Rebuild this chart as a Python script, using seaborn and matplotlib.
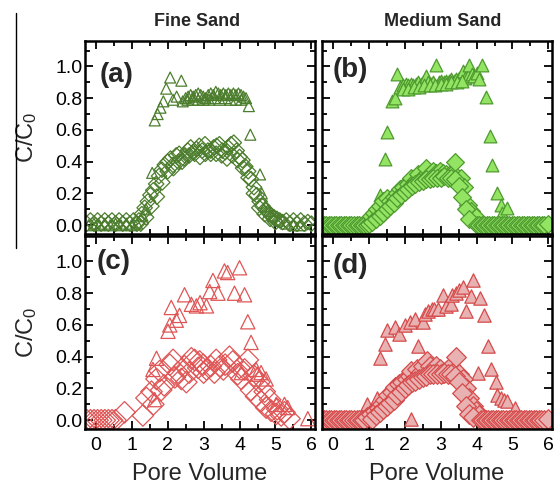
import matplotlib
matplotlib.use("Agg")
import matplotlib.pyplot as plt
from matplotlib.lines import Line2D
from matplotlib.ticker import MultipleLocator
import pandas as pd
import seaborn as sns

# ---------------------------------------------------------------- data
# Breakthrough curves: (pore volume, C/C0)
# Fine sand, green (open markers)
a_tri = [(-0.2, 0.0), (-0.05, 0.01), (0.1, 0.0), (0.25, 0.01), (0.4, 0.0), (0.55, 0.01),
         (0.7, 0.0), (0.85, 0.01), (1.0, 0.0), (1.15, 0.01), (1.3, 0.06), (1.4, 0.10),
         (1.57, 0.33), (1.64, 0.66), (1.72, 0.70), (1.8, 0.74), (1.88, 0.78), (1.96, 0.86),
         (2.07, 0.93), (2.15, 0.79), (2.25, 0.81), (2.38, 0.91), (2.42, 0.78),
         (2.50, 0.80), (2.57, 0.81), (2.64, 0.82), (2.71, 0.81), (2.78, 0.82), (2.85, 0.83),
         (2.92, 0.82), (2.99, 0.81), (3.06, 0.80), (3.13, 0.82), (3.20, 0.83), (3.27, 0.82),
         (3.34, 0.84), (3.41, 0.83), (3.48, 0.82), (3.55, 0.83), (3.62, 0.82), (3.69, 0.83),
         (3.76, 0.82), (3.83, 0.83), (3.90, 0.82), (3.97, 0.83), (4.04, 0.82), (4.11, 0.81),
         (4.18, 0.80), (2.55, 0.79), (2.70, 0.79), (2.85, 0.79), (3.00, 0.79), (3.15, 0.79),
         (3.30, 0.80), (3.45, 0.79), (3.60, 0.80), (3.75, 0.79), (3.90, 0.79), (4.05, 0.79),
         (4.26, 0.75), (4.30, 0.57), (4.57, 0.32), (4.62, 0.20), (4.72, 0.12), (4.82, 0.09),
         (4.92, 0.06), (5.1, 0.03), (5.3, 0.01), (5.5, 0.0), (5.7, 0.0)]
a_dia = [(-0.25, 0.01), (-0.15, 0.03), (-0.05, 0.01), (0.05, 0.03), (0.15, 0.01), (0.25, 0.03),
         (0.35, 0.01), (0.45, 0.03), (0.55, 0.01), (0.65, 0.03), (0.75, 0.01), (0.85, 0.03),
         (0.95, 0.01), (1.05, 0.03), (1.15, 0.01),
         (1.2, 0.03), (1.28, 0.07), (1.36, 0.11), (1.45, 0.15), (1.52, 0.19), (1.6, 0.22),
         (1.68, 0.26), (1.76, 0.31), (1.84, 0.35), (1.92, 0.38), (2.0, 0.40), (2.08, 0.42),
         (2.16, 0.36), (2.24, 0.44), (2.32, 0.45), (2.4, 0.40), (2.48, 0.44), (2.56, 0.47),
         (2.64, 0.49), (2.72, 0.46), (2.8, 0.48), (2.88, 0.50), (2.96, 0.47), (3.04, 0.51),
         (3.12, 0.47), (3.2, 0.45), (3.28, 0.49), (3.36, 0.50), (3.44, 0.51), (3.52, 0.47),
         (3.6, 0.46), (3.68, 0.49), (3.76, 0.51), (3.84, 0.52), (3.92, 0.47), (4.0, 0.43),
         (4.08, 0.41), (4.16, 0.37), (4.24, 0.34), (4.32, 0.29), (4.4, 0.24), (4.48, 0.19),
         (4.56, 0.15), (4.64, 0.12), (4.72, 0.10), (4.8, 0.08), (4.88, 0.06), (4.96, 0.05),
         (5.04, 0.04), (5.12, 0.03),
         (1.25, 0.01), (1.4, 0.05), (1.55, 0.12), (1.7, 0.18), (1.85, 0.27), (2.0, 0.34),
         (2.15, 0.38), (2.3, 0.40), (2.45, 0.42), (2.6, 0.44), (2.75, 0.45), (2.9, 0.43),
         (3.05, 0.45), (3.2, 0.47), (3.35, 0.45), (3.5, 0.44), (3.65, 0.42), (3.8, 0.44),
         (3.95, 0.41), (4.1, 0.36), (4.25, 0.30), (4.4, 0.20), (4.55, 0.11), (4.7, 0.07),
         (4.85, 0.04), (5.0, 0.02),
         (5.2, 0.02), (5.3, 0.03), (5.4, 0.01), (5.5, 0.03), (5.6, 0.01), (5.7, 0.03),
         (5.8, 0.01), (5.9, 0.02), (6.0, 0.01)]

# Medium sand, green (filled markers)
b_tri = [(1.3, 0.19), (1.45, 0.42), (1.5, 0.59), (1.64, 0.78), (1.73, 0.80), (1.8, 0.95),
         (1.87, 0.87), (1.96, 0.88), (2.03, 0.89), (2.1, 0.88), (2.17, 0.89), (2.24, 0.88),
         (2.31, 0.89), (2.38, 0.90), (2.45, 0.89), (2.52, 0.90), (2.59, 0.94), (2.66, 0.90),
         (2.73, 0.89), (2.8, 0.90), (2.88, 1.01), (2.95, 0.90), (3.02, 0.91), (3.09, 0.90),
         (3.16, 0.91), (3.23, 0.91), (3.3, 0.92), (3.37, 0.91), (3.44, 0.92), (3.51, 0.93),
         (3.58, 0.92), (3.61, 0.97), (3.68, 0.93), (3.75, 0.94), (3.8, 1.01), (3.87, 0.95),
         (3.94, 0.94), (4.0, 0.96), (4.07, 0.92), (4.16, 1.01),
         (1.95, 0.86), (2.1, 0.86), (2.25, 0.87), (2.4, 0.87), (2.55, 0.88), (2.7, 0.88),
         (2.85, 0.88), (3.0, 0.89), (3.15, 0.89), (3.3, 0.90), (3.45, 0.90), (3.6, 0.91),
         (4.26, 0.81), (4.37, 0.56), (4.44, 0.38), (4.58, 0.20), (4.67, 0.13), (4.7, 0.08),
         (4.85, 0.11)]
b_dia = [(-0.25, 0.0), (-0.18, 0.0), (-0.11, 0.0), (-0.04, 0.0), (0.03, 0.0), (0.10, 0.0),
         (0.17, 0.0), (0.24, 0.0), (0.31, 0.0), (0.38, 0.0), (0.45, 0.0), (0.52, 0.0),
         (0.59, 0.0), (0.66, 0.0), (0.73, 0.0), (0.80, 0.0), (0.87, 0.0), (0.94, 0.0),
         (1.0, 0.01),
         (1.05, 0.06), (1.14, 0.08), (1.23, 0.10), (1.32, 0.12), (1.41, 0.15), (1.5, 0.17),
         (1.6, 0.15), (1.69, 0.18), (1.78, 0.20), (1.87, 0.23), (1.96, 0.24), (2.1, 0.26),
         (2.19, 0.30), (2.28, 0.28), (2.37, 0.32), (2.47, 0.30), (2.6, 0.36), (2.7, 0.32),
         (2.79, 0.34), (2.88, 0.33), (2.97, 0.34), (3.06, 0.33), (3.16, 0.32), (3.25, 0.32),
         (3.34, 0.33), (3.39, 0.40), (3.48, 0.28), (3.57, 0.30), (3.66, 0.24), (3.75, 0.13),
         (3.84, 0.09), (3.98, 0.05),
         (1.1, 0.02), (1.2, 0.04), (1.3, 0.06), (1.4, 0.08), (1.5, 0.10), (1.6, 0.12),
         (1.7, 0.14), (1.8, 0.17), (1.9, 0.19), (2.0, 0.21), (2.1, 0.23), (2.2, 0.25),
         (2.3, 0.26), (2.4, 0.27), (2.5, 0.28), (2.6, 0.29), (2.7, 0.29), (2.8, 0.30),
         (2.9, 0.30), (3.0, 0.30), (3.1, 0.31), (3.2, 0.30), (3.3, 0.30), (3.4, 0.29),
         (3.5, 0.25), (3.6, 0.18), (3.7, 0.10), (3.8, 0.04),
         (4.0, 0.0), (4.07, 0.0), (4.14, 0.0), (4.21, 0.0), (4.28, 0.0), (4.35, 0.0),
         (4.42, 0.0), (4.49, 0.0), (4.56, 0.0), (4.63, 0.0), (4.70, 0.0), (4.77, 0.0),
         (4.84, 0.0), (4.91, 0.0), (4.98, 0.0), (5.05, 0.0), (5.12, 0.0), (5.19, 0.0),
         (5.26, 0.0), (5.33, 0.0), (5.40, 0.0), (5.47, 0.0), (5.54, 0.0), (5.61, 0.0),
         (5.68, 0.0), (5.75, 0.0), (5.82, 0.0), (5.89, 0.0), (6.0, 0.01)]

# Fine sand, red (open markers)
c_tri = [(1.59, 0.32), (1.69, 0.39), (1.64, 0.13), (2.01, 0.56), (2.06, 0.60), (2.1, 0.71),
         (2.24, 0.63), (2.33, 0.66), (2.47, 0.79), (2.66, 0.73), (2.8, 0.72), (2.9, 0.74),
         (3.08, 0.72), (3.17, 0.81), (3.26, 0.88), (3.4, 0.80), (3.58, 0.94), (3.67, 0.93),
         (3.86, 0.80), (4.0, 0.96), (4.14, 0.79), (4.23, 0.62), (4.32, 0.49), (4.05, 0.30),
         (4.46, 0.32), (4.5, 0.29), (4.6, 0.30), (4.74, 0.26), (5.02, 0.10), (5.25, 0.10),
         (5.34, 0.08), (5.9, 0.01)]
c_dia = [(-0.25, 0.0), (-0.15, 0.0), (-0.05, 0.0), (0.05, 0.0), (0.15, 0.0), (0.25, 0.0),
         (0.35, 0.0), (0.45, 0.0), (0.55, 0.0),
         (0.8, 0.05), (1.31, 0.03), (1.41, 0.14), (1.55, 0.18), (1.69, 0.26), (1.78, 0.31),
         (1.82, 0.19), (2.06, 0.35), (2.15, 0.38), (2.29, 0.30), (2.38, 0.26), (2.47, 0.34),
         (2.52, 0.24), (2.66, 0.39), (2.75, 0.38), (2.89, 0.37), (2.99, 0.35), (3.08, 0.32),
         (3.2, 0.34), (3.35, 0.38), (3.45, 0.34), (3.55, 0.32), (3.72, 0.40), (3.81, 0.37),
         (3.95, 0.29), (4.05, 0.26), (4.14, 0.32), (4.23, 0.38), (4.32, 0.19), (4.46, 0.15),
         (4.6, 0.12), (4.74, 0.08), (4.88, 0.06), (5.02, 0.04), (5.16, 0.03), (5.39, 0.01),
         (2.2, 0.27), (2.6, 0.30), (2.85, 0.33), (3.0, 0.30), (3.3, 0.30), (3.6, 0.35),
         (4.0, 0.33), (4.4, 0.28), (4.55, 0.24), (4.7, 0.18), (4.85, 0.13), (5.05, 0.07),
         (5.25, 0.05), (1.9, 0.22), (1.6, 0.10)]

# Medium sand, red (filled markers)
d_tri = [(0.95, 0.10), (1.23, 0.14), (1.32, 0.39), (1.46, 0.48), (1.5, 0.57), (1.73, 0.59),
         (1.83, 0.54), (2.0, 0.60), (2.15, 0.62), (2.28, 0.64), (2.38, 0.47), (2.5, 0.62),
         (2.56, 0.67), (2.65, 0.69), (2.75, 0.70), (2.83, 0.70), (2.93, 0.70), (3.06, 0.79),
         (3.16, 0.72), (3.29, 0.73), (3.33, 0.79), (3.43, 0.80), (3.52, 0.82), (3.61, 0.84),
         (3.7, 0.69), (3.84, 0.78), (3.89, 0.88), (4.11, 0.77), (4.21, 0.66), (4.33, 0.47),
         (4.39, 0.32), (4.03, 0.30), (4.53, 0.24), (4.58, 0.16), (4.67, 0.14), (4.76, 0.13),
         (4.86, 0.12), (5.08, 0.08), (2.19, 0.01)]
d_dia = [(-0.25, 0.0), (-0.18, 0.0), (-0.11, 0.0), (-0.04, 0.0), (0.03, 0.0), (0.10, 0.0),
         (0.17, 0.0), (0.24, 0.0), (0.31, 0.0), (0.38, 0.0), (0.45, 0.0), (0.52, 0.0),
         (0.59, 0.0), (0.66, 0.0), (0.73, 0.0), (0.80, 0.0), (0.87, 0.0),
         (0.95, 0.02), (1.05, 0.04), (1.18, 0.06), (1.28, 0.08), (1.37, 0.10), (1.46, 0.13),
         (1.55, 0.16), (1.64, 0.18), (1.73, 0.21), (1.83, 0.23), (1.92, 0.24), (2.06, 0.26),
         (2.15, 0.28), (2.19, 0.31), (2.34, 0.32), (2.42, 0.30), (2.51, 0.34), (2.61, 0.37),
         (2.7, 0.34), (2.79, 0.32), (2.88, 0.34), (2.97, 0.32), (3.06, 0.30), (3.16, 0.31),
         (3.29, 0.34), (3.34, 0.30), (3.43, 0.40), (3.52, 0.29), (3.61, 0.26), (3.7, 0.20),
         (3.8, 0.14), (3.89, 0.09), (3.98, 0.06), (4.07, 0.03),
         (1.1, 0.01), (1.2, 0.03), (1.3, 0.05), (1.4, 0.07), (1.5, 0.09), (1.6, 0.11),
         (1.7, 0.13), (1.8, 0.16), (1.9, 0.18), (2.0, 0.20), (2.1, 0.22), (2.2, 0.24),
         (2.3, 0.25), (2.4, 0.26), (2.5, 0.27), (2.6, 0.28), (2.7, 0.29), (2.8, 0.29),
         (2.9, 0.29), (3.0, 0.29), (3.1, 0.30), (3.2, 0.29), (3.3, 0.29), (3.4, 0.28),
         (3.5, 0.24), (3.6, 0.17), (3.7, 0.09), (3.8, 0.04), (3.9, 0.02),
         (4.12, 0.0), (4.19, 0.0), (4.26, 0.0), (4.33, 0.0), (4.40, 0.0), (4.47, 0.0),
         (4.54, 0.0), (4.61, 0.0), (4.68, 0.0), (4.75, 0.0), (4.82, 0.0), (4.89, 0.0),
         (4.96, 0.0), (5.03, 0.0), (5.10, 0.0), (5.17, 0.0), (5.24, 0.0), (5.31, 0.0),
         (5.38, 0.0), (5.45, 0.0), (5.52, 0.0), (5.59, 0.0), (5.66, 0.0), (5.73, 0.0),
         (5.80, 0.0), (5.87, 0.0), (6.0, 0.01)]

col_titles = ["Fine Sand", "Medium Sand"]
panel_tags = ["(a)", "(b)", "(c)", "(d)"]
x_ticks = [0, 1, 2, 3, 4, 5, 6]
y_ticks = [0.0, 0.2, 0.4, 0.6, 0.8, 1.0]

# ---------------------------------------------------------------- style
sns.set_theme(style="ticks")
plt.rcParams["font.family"] = ["Liberation Sans", "DejaVu Sans"]
plt.rcParams["mathtext.fontset"] = "custom"
plt.rcParams["mathtext.rm"] = "Liberation Sans"
plt.rcParams["mathtext.it"] = "Liberation Sans:italic"

green_dark = "#4b7d2c"
green_fill = "#92e462"
green_edge = "#4f9a30"
red_open = "#e05555"
red_fill = "#e9b2b2"
red_edge = "#d64a4a"

W, H = 555, 484
fig = plt.figure(figsize=(W / 100, H / 100), dpi=100)


def box(x0, y_top, w, h):
    return [x0 / W, 1 - (y_top + h) / H, w / W, h / H]


axes = [
    fig.add_axes(box(85, 41, 230, 193)),
    fig.add_axes(box(322, 41, 230, 193)),
    fig.add_axes(box(85, 236, 230, 193)),
    fig.add_axes(box(322, 236, 230, 193)),
]

# (triangles, diamonds, colours, triangle size, diamond size)
panels = [
    (a_tri, a_dia, dict(facecolor="none", edgecolor=green_dark), 62, 62),
    (b_tri, b_dia, dict(facecolor=green_fill, edgecolor=green_edge), 84, 82),
    (c_tri, c_dia, dict(facecolor="none", edgecolor=red_open), 105, 120),
    (d_tri, d_dia, dict(facecolor=red_fill, edgecolor=red_edge), 92, 100),
]

for i, (ax, (tri, dia, colors, s_tri, s_dia)) in enumerate(zip(axes, panels)):
    tri_df = pd.DataFrame(tri, columns=["pv", "c"])
    dia_df = pd.DataFrame(dia, columns=["pv", "c"])
    sns.scatterplot(data=tri_df, x="pv", y="c", ax=ax, marker="^", s=s_tri,
                    linewidth=0.9, legend=False, **colors)
    sns.scatterplot(data=dia_df, x="pv", y="c", ax=ax, marker="D", s=s_dia,
                    linewidth=0.9, legend=False, **colors)

    ax.set_xlim(-0.3, 6.1)
    ax.set_ylim(-0.055, 1.16)
    ax.set_xticks(x_ticks)
    ax.set_yticks(y_ticks)
    ax.xaxis.set_minor_locator(MultipleLocator(0.5))
    ax.yaxis.set_minor_locator(MultipleLocator(0.1))
    ax.tick_params(which="both", direction="in", top=True, right=True,
                   width=1.3, colors="black", labelsize=14)
    ax.tick_params(which="major", length=6)
    ax.tick_params(which="minor", length=3.5)
    ax.tick_params(axis="x", pad=6)
    ax.tick_params(axis="y", pad=2)
    for sp in ax.spines.values():
        sp.set_linewidth(1.8)
        sp.set_color("black")

    if i % 2 == 0:
        ax.set_yticklabels([f"{v:.1f}" for v in y_ticks])
        ax.set_ylabel("C/C$_\\mathregular{0}$", fontsize=17)
        ax.yaxis.set_label_coords(-0.2, 0.5)
    else:
        ax.set_yticklabels([])
        ax.set_ylabel("")
    if i >= 2:
        ax.set_xticklabels([str(v) for v in x_ticks])
        ax.set_xlabel("Pore Volume", fontsize=17, va="top")
        ax.xaxis.set_label_coords(0.5, -0.175)
    else:
        ax.set_xticklabels([])
        ax.set_xlabel("")

    tag_pos = [(0.065, 0.825), (0.048, 0.85), (0.05, 0.865), (0.048, 0.845)][i]
    ax.text(tag_pos[0], tag_pos[1], panel_tags[i], transform=ax.transAxes,
            fontsize=20, fontweight="bold", ha="left", va="center")

fig.text(197 / W, 1 - 22 / H, col_titles[0], fontsize=13, fontweight="bold",
         ha="center", va="center")
fig.text(443 / W, 1 - 22 / H, col_titles[1], fontsize=13, fontweight="bold",
         ha="center", va="center")

# thin rule along the left edge
fig.add_artist(Line2D([16 / W, 16 / W], [1 - 13 / H, 1 - 248 / H],
                      transform=fig.transFigure, color="black", lw=1.0))

fig.savefig("out.png", dpi=100)
